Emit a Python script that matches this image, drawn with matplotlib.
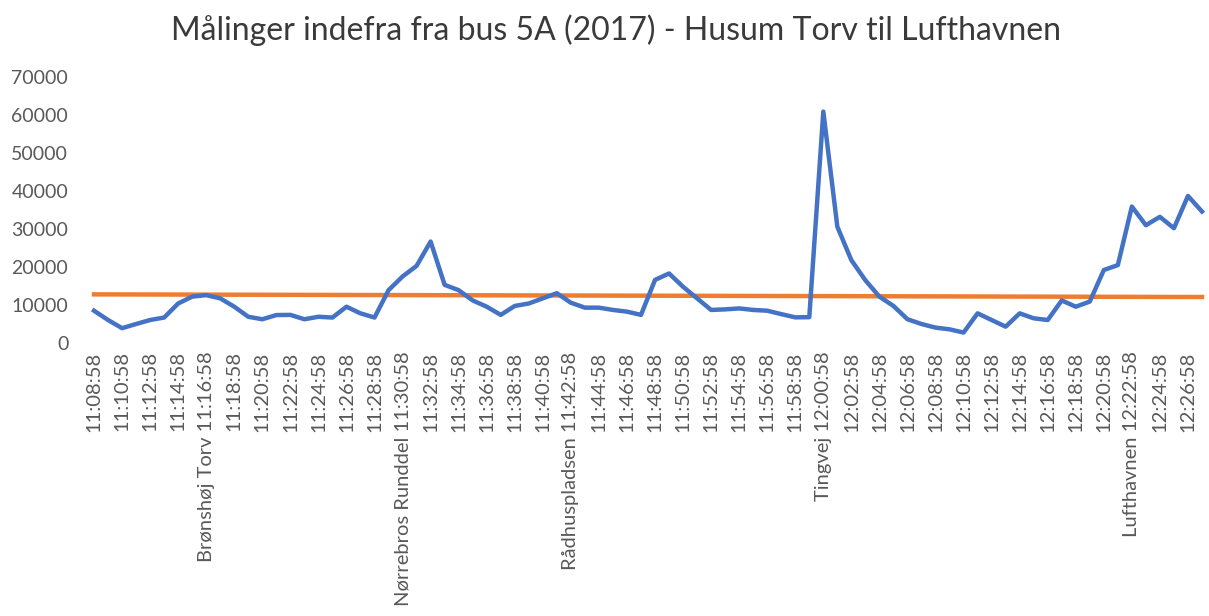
import matplotlib as mpl
import matplotlib.pyplot as plt
import numpy as np

mpl.rcParams.update({
    "font.family": ["Lato", "DejaVu Sans"],
    "axes.spines.top": False,
    "axes.spines.right": False,
    "axes.spines.left": False,
    "axes.spines.bottom": False,
})

TITLE = "Målinger indefra fra bus 5A (2017) - Husum Torv til Lufthavnen"

# one measurement per minute, 11:08:58 .. 12:27:58
measurements = [
    8500, 6050, 3900, 5000, 6050, 6700, 10400, 12200, 12600, 11750,
    9550, 6900, 6250, 7350, 7400, 6250, 6900, 6700, 9550, 7800,
    6700, 13900, 17500, 20300, 26700, 15300, 13900, 11200, 9550, 7400,
    9750, 10400, 11750, 13100, 10600, 9300, 9300, 8700, 8250, 7400,
    16600, 18300, 14800, 11750, 8700, 8850, 9100, 8700, 8500, 7600,
    6750, 6800, 60900, 30600, 21800, 16500, 12200, 9750, 6250, 5000,
    4050, 3600, 2750, 7800, 6050, 4300, 7800, 6500, 6050, 11200,
    9550, 10900, 19200, 20500, 35900, 31000, 33200, 30200, 38700, 34600,
]

# reference level at first and last point
reference = [12800, 12100]

# labels shown on every second minute
tick_labels = [
    "11:08:58", "11:10:58", "11:12:58", "11:14:58", "Brønshøj Torv 11:16:58",
    "11:18:58", "11:20:58", "11:22:58", "11:24:58", "11:26:58",
    "11:28:58", "Nørrebros Runddel 11:30:58", "11:32:58", "11:34:58", "11:36:58",
    "11:38:58", "11:40:58", "Rådhuspladsen 11:42:58", "11:44:58", "11:46:58",
    "11:48:58", "11:50:58", "11:52:58", "11:54:58", "11:56:58",
    "11:58:58", "Tingvej 12:00:58", "12:02:58", "12:04:58", "12:06:58",
    "12:08:58", "12:10:58", "12:12:58", "12:14:58", "12:16:58",
    "12:18:58", "12:20:58", "Lufthavnen 12:22:58", "12:24:58", "12:26:58",
]

y_ticks = [0, 10000, 20000, 30000, 40000, 50000, 60000, 70000]

W, H = 1209, 616
fig = plt.figure(figsize=(W / 100, H / 100), dpi=100)
ax = fig.add_axes([87 / W, 1 - 343 / H, (W - 87) / W, (343 - 77) / H])

x = np.arange(len(measurements))
ax.plot(x, measurements, color="#4472C4", linewidth=3.2, solid_joinstyle="round",
        zorder=3)
ax.plot([x[0], x[-1]], reference, color="#ED7D31", linewidth=3.2, zorder=2)

ax.set_xlim(-0.5, len(measurements) - 0.5)
ax.set_ylim(0, 70000)
ax.set_yticks(y_ticks)
ax.set_yticklabels([str(v) for v in y_ticks])
ax.set_xticks(x[::2])
ax.set_xticklabels(tick_labels, rotation=90, va="top", ha="center")

ax.tick_params(axis="y", length=0, pad=13.5, labelsize=14, labelcolor="#595959")
ax.tick_params(axis="x", length=0, pad=6, labelsize=14.5, labelcolor="#595959")

fig.text(616 / W, 1 - 30 / H, TITLE, ha="center", va="center", fontsize=23,
         color="#3a3a3a")

fig.savefig("out.png", dpi=100)
